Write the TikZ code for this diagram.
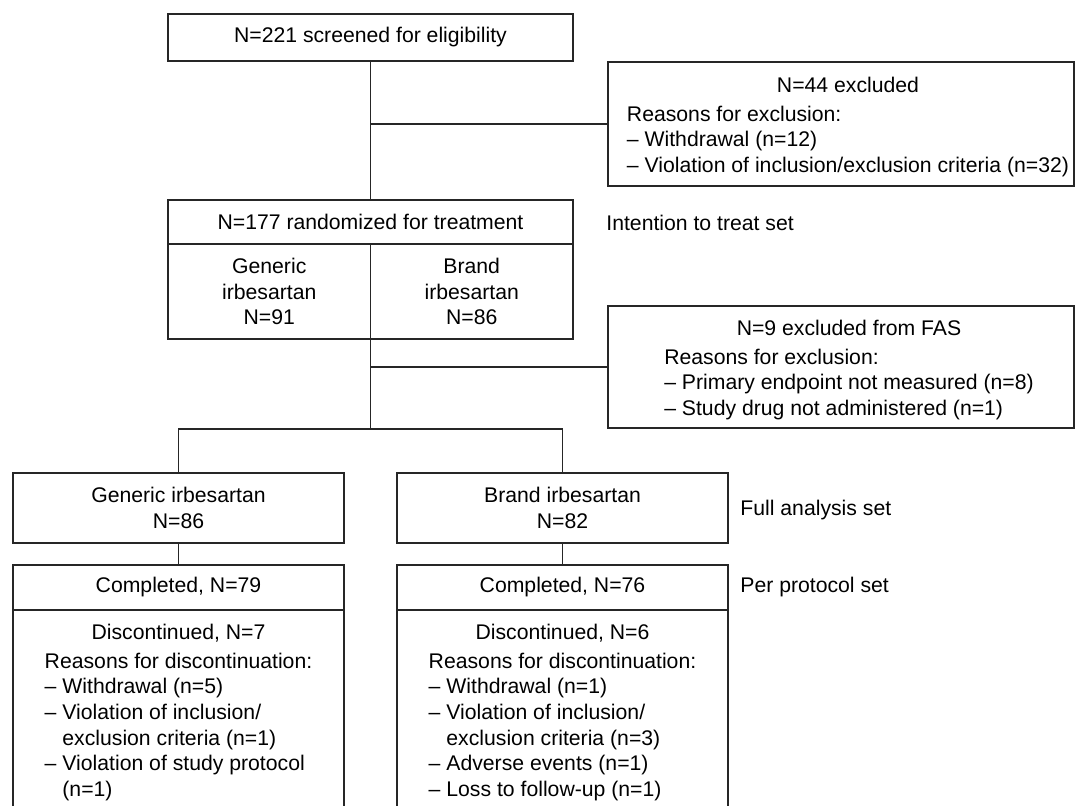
\documentclass[tikz,border=0pt]{standalone}
\usepackage{fontspec}
\setmainfont{Liberation Sans}
\usepackage{tikz}
\usetikzlibrary{positioning}
\newcommand{\flowfont}{\fontsize{10.6pt}{12.85pt}\selectfont}
\newcommand{\ind}{\phantom{– }}

\begin{document}
\begin{tikzpicture}[x=0.5pt,y=-0.5pt]
        \tikzstyle{every node}=[font=\flowfont]
        \tikzset{flowbox/.style = {draw=black!85,line width=0.85pt,inner sep=0pt,outer sep=0pt,minimum width=#1}}
        \tikzset{txt/.style = {inner sep=0pt,anchor=base}}
        \tikzset{setlabel/.style = {inner sep=0pt,anchor=base west}}
        \tikzset{edge/.style = {draw=black!85,line width=0.85pt}}
        \useasboundingbox (0,0) rectangle (1075,805);
        % boxes
        \node[flowbox=202.5pt,minimum height=23.5pt] (screen) at (370.5,37.5) {N=221 screened for eligibility};
        \node[flowbox=233pt,minimum height=62pt] (excl) at (841,124) {};
        \node[flowbox=202.5pt,minimum height=22pt] (rand) at (370.5,222) {N=177 randomized for treatment};
        \node[flowbox=101.25pt,minimum height=47.5pt,align=center] (randgen) at (269.25,291.5) {Generic\\irbesartan\\N=91};
        \node[flowbox=101.25pt,minimum height=47.5pt,align=center] (randbrand) at (471.75,291.5) {Brand\\irbesartan\\N=86};
        \node[flowbox=233pt,minimum height=61pt] (fas) at (841,367) {};
        \node[flowbox=165.5pt,minimum height=35pt,align=center] (gen) at (178.5,508) {Generic irbesartan\\N=86};
        \node[flowbox=165.5pt,minimum height=35pt,align=center] (brand) at (562.5,508) {Brand irbesartan\\N=82};
        \node[flowbox=165.5pt,minimum height=22.5pt] (gencomp) at (178.5,587.5) {Completed, N=79};
        \node[flowbox=165.5pt,minimum height=22.5pt] (brandcomp) at (562.5,587.5) {Completed, N=76};
        \draw[edge] (gencomp.south west) -- ++(0,200);
        \draw[edge] (gencomp.south east) -- ++(0,200);
        \draw[edge] (brandcomp.south west) -- ++(0,200);
        \draw[edge] (brandcomp.south east) -- ++(0,200);
        % box texts
        \node[txt] (excltxt) at (848,92.6) {\begin{tabular}[t]{@{}l@{}}\multicolumn{1}{@{}c@{}}{N=44 excluded}\\[1.4pt]
          Reasons for exclusion:\\
          – Withdrawal (n=12)\\
          – Violation of inclusion/exclusion criteria (n=32)\end{tabular}};
        \node[txt] (fastxt) at (849,335.6) {\begin{tabular}[t]{@{}l@{}}\multicolumn{1}{@{}c@{}}{N=9 excluded from FAS}\\[1.4pt]
          Reasons for exclusion:\\
          – Primary endpoint not measured (n=8)\\
          – Study drug not administered (n=1)\end{tabular}};
        \node[txt] (gendisc) at (178.5,639.6) {\begin{tabular}[t]{@{}l@{}}\multicolumn{1}{@{}c@{}}{Discontinued, N=7}\\[1.4pt]
          Reasons for discontinuation:\\
          – Withdrawal (n=5)\\
          – Violation of inclusion/\\
          \ind exclusion criteria (n=1)\\
          – Violation of study protocol\\
          \ind (n=1)\end{tabular}};
        \node[txt] (branddisc) at (562.5,639.6) {\begin{tabular}[t]{@{}l@{}}\multicolumn{1}{@{}c@{}}{Discontinued, N=6}\\[1.4pt]
          Reasons for discontinuation:\\
          – Withdrawal (n=1)\\
          – Violation of inclusion/\\
          \ind exclusion criteria (n=3)\\
          – Adverse events (n=1)\\
          – Loss to follow-up (n=1)\end{tabular}};
        % set labels
        \node[setlabel] (itt) at (606,230.5) {Intention to treat set};
        \node[setlabel] (fasl) at (740,515.5) {Full analysis set};
        \node[setlabel] (ppl) at (740,592.5) {Per protocol set};
        % edges
        \coordinate (b1) at (screen.south |- excl.west);
        \coordinate (b2) at (randgen.south east |- fas.west);
        \coordinate (split) at (370.5,429);
        \draw[edge] (screen) -- (rand);
        \draw[edge] (b1) -- (excl);
        \draw[edge] (randgen.south east) -- (split);
        \draw[edge] (b2) -- (fas);
        \draw[edge] (gen.north) |- (split) -| (brand.north);
        \draw[edge] (gen) -- (gencomp);
        \draw[edge] (brand) -- (brandcomp);
      \end{tikzpicture}
\end{document}
